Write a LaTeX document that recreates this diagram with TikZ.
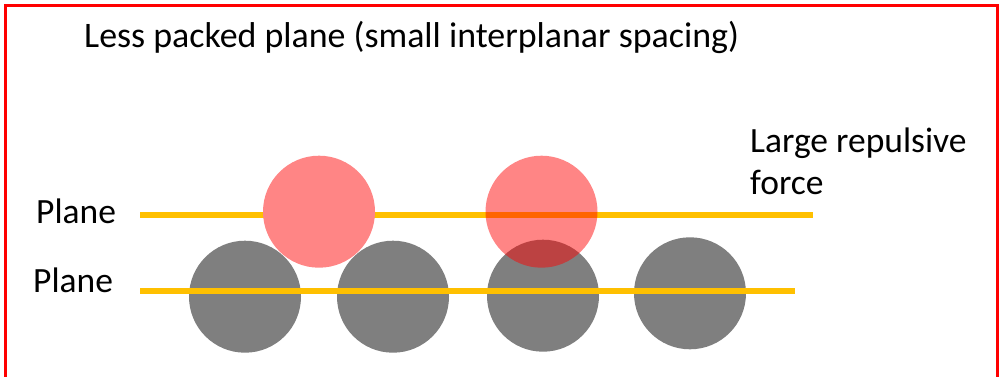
\documentclass[tikz,border=0pt]{standalone}
\usepackage{fontspec}
\setmainfont{Carlito}
\definecolor{frame}{RGB}{255,0,0}
\definecolor{planeline}{RGB}{255,192,0}
\definecolor{atomgrey}{RGB}{127,127,127}
\definecolor{atompink}{RGB}{255,133,133}
\begin{document}
\begin{tikzpicture}[x=1pt,y=-1pt,
  lbl/.style={inner sep=0pt,anchor=base west,font=\fontsize{35.5}{42}\selectfont},
  greyatom/.style={circle,fill=atomgrey,minimum size=112pt,inner sep=0pt},
  pinkatom/.style={circle,fill=atompink,minimum size=112pt,inner sep=0pt},
  redatom/.style={circle,fill=red,fill opacity=0.48,minimum size=112pt,inner sep=0pt},
  planestroke/.style={draw=planeline,line width=6pt}]
\useasboundingbox (0,0) rectangle (999,377);
% frame
\draw[frame,line width=3pt] (5,380) -- (5,5.5) -- (997.5,5.5) -- (997.5,380);
% texts
\node[lbl,font=\fontsize{35.9}{42}\selectfont] (title) at (84,48) {Less packed plane (small interplanar spacing)};
\node[lbl] (planeA) at (36,223) {Plane};
\node[lbl] (planeB) at (33,292.5) {Plane};
\node[lbl] (forceA) at (750,153) {Large repulsive};
\node[lbl] (forceB) at (750,194) {force};
% grey atoms
\node[greyatom] (g1) at (245,296.7) {};
\node[greyatom] (g2) at (393,296.7) {};
\node[greyatom] (g3) at (543,295.7) {};
\node[greyatom] (g4) at (690,293.3) {};
% planes
\coordinate (p1s) at (140,215);
\coordinate (p1e) at (812.5,215);
\coordinate (p2s) at (140,291);
\coordinate (p2e) at (795,291);
\draw[planestroke] (p1s) -- (p1e);
\draw[planestroke] (p2s) -- (p2e);
% top atoms
\node[pinkatom] (t1) at (319,211.7) {};
\node[redatom] (t2) at (541.5,211.7) {};
\end{tikzpicture}
\end{document}
